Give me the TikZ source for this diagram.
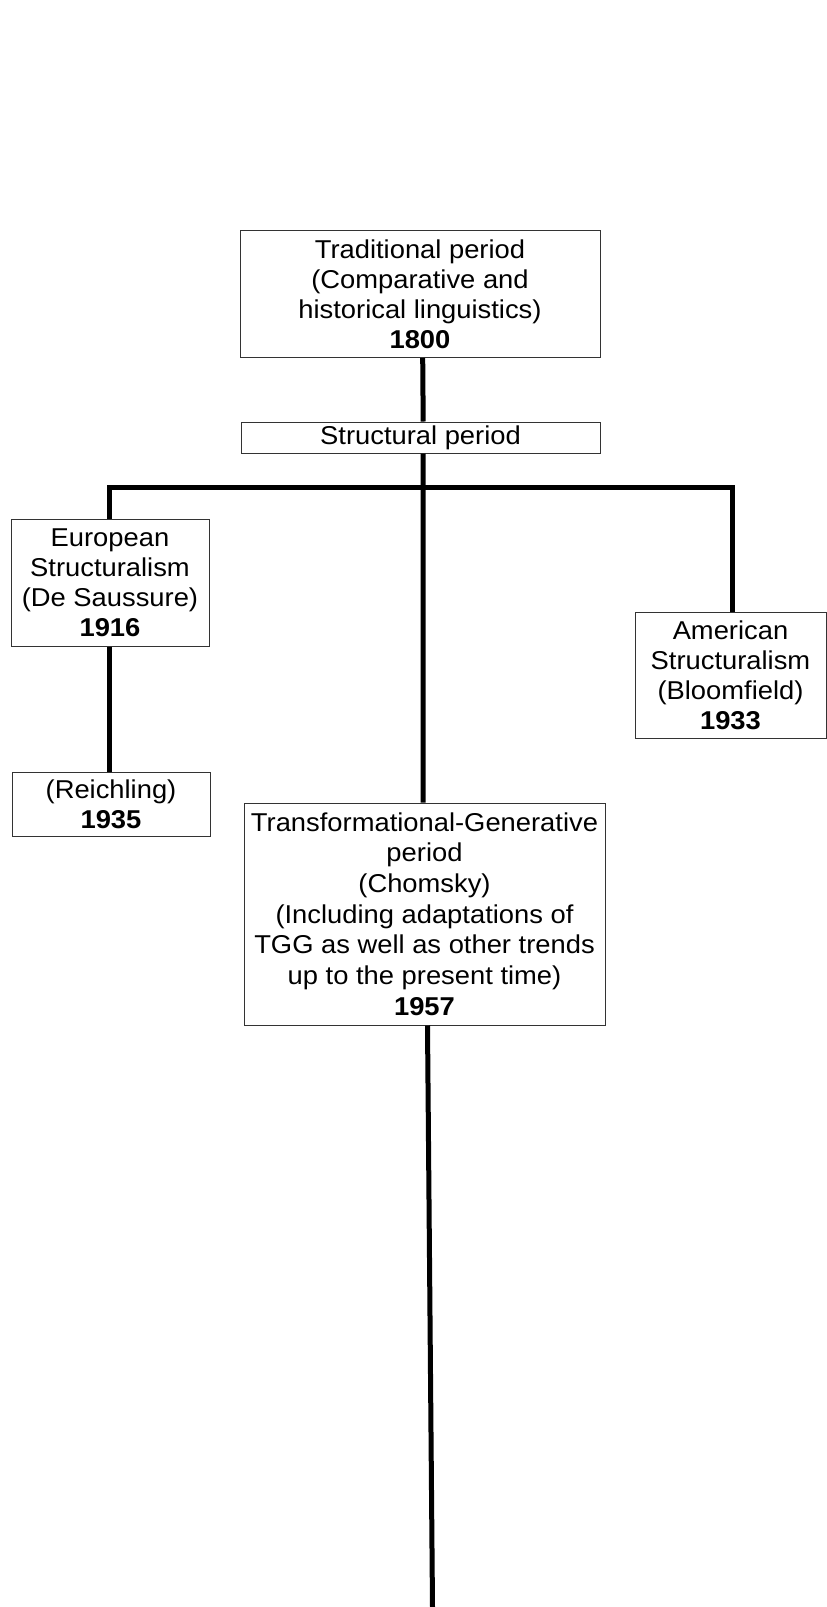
\documentclass[tikz,border=0pt]{standalone}
\usepackage{fontspec}
\setmainfont[FakeStretch=1.06]{Liberation Sans}
\begin{document}
\begin{tikzpicture}[x=1pt,y=-1pt,
  box/.style={draw=black!80, line width=1pt, inner sep=0pt, align=center,
    font=\fontsize{25.8}{30}\selectfont, text=black},
  link/.style={line width=5pt, black}]
\useasboundingbox (0,0) rectangle (827,1607);
\node[box, minimum width=360pt, minimum height=127pt] (trad) at (420,294)
  {Traditional period\\(Comparative and\\historical linguistics)\\\textbf{1800}};
\node[box, minimum width=359pt, minimum height=31pt] (struct) at (420.5,437.5)
  {Structural period};
\node[box, minimum width=198pt, minimum height=127pt] (euro) at (110,582.5)
  {European\\Structuralism\\(De Saussure)\\\textbf{1916}};
\node[box, minimum width=198pt, minimum height=64pt] (reich) at (111,804)
  {(Reichling)\\\textbf{1935}};
\node[box, minimum width=191pt, minimum height=126pt] (amer) at (730.5,675)
  {American\\Structuralism\\(Bloomfield)\\\textbf{1933}};
\node[box, minimum width=361pt, minimum height=222pt,
  font=\fontsize{25.8}{30.7}\selectfont] (tg) at (424.5,914)
  {Transformational-Generative\\period\\(Chomsky)\\(Including adaptations of\\TGG as well as other trends\\up to the present time)\\\textbf{1957}};
\coordinate (barc) at (423,487);
\coordinate (endc) at (432.5,1607);
\draw[link] ([xshift=2.7pt]trad.south) -- ([xshift=2.7pt]struct.north);
\draw[link] ([xshift=2.7pt]struct.south) -- ([xshift=-1.5pt]tg.north);
\draw[link] ([xshift=-1pt]euro.north) |- (barc) -| ([xshift=1.5pt]amer.north);
\draw[link] ([xshift=-1pt]euro.south) -- ([xshift=-2pt]reich.north);
\draw[link] ([xshift=3pt]tg.south) -- (endc);
\end{tikzpicture}
\end{document}
